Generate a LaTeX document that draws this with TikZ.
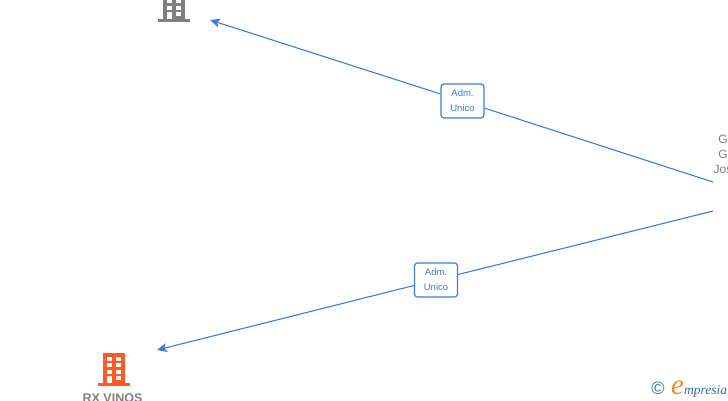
\documentclass[tikz,border=0pt]{standalone}
\usepackage{fontspec}
\setmainfont{Liberation Sans}
\newfontfamily\logofont{Liberation Serif}
\usetikzlibrary{arrows.meta}
\definecolor{linkblue}{HTML}{3B7DDD}
\definecolor{textgray}{HTML}{808080}
\definecolor{icongray}{HTML}{7F7F7F}
\definecolor{iconorange}{HTML}{FF5A26}
\definecolor{logoteal}{HTML}{2F7396}
\definecolor{logoorange}{HTML}{F08A1D}
\tikzset{
	rolebox/.style={draw=linkblue,fill=white,rounded corners=3pt,line width=1.2pt,text=linkblue,
		font=\fontsize{9.5}{15}\selectfont,align=center,minimum width=43pt,minimum height=34pt,inner sep=0pt},
	linkline/.style={draw=linkblue,line width=1.1pt},
	nametext/.style={text=textgray,align=center,inner sep=0pt}
}
% building drawn around the middle of its base
\newcommand{\building}[2]{
	\begin{scope}[shift={(#1)}]
		\fill[#2] (-16,-2) rectangle (16,1);
		\fill[#2] (-11,-32.5) rectangle (11,0);
		\foreach \y in {-28.5,-22,-15} {
			\fill[white] (-7,\y) rectangle (-2.5,\y+4);
			\fill[white] (2,\y) rectangle (7,\y+4);
		}
		\fill[white] (2,-9) rectangle (7,-5);
		\fill[white] (-7,-9) rectangle (-2.5,-2);
	\end{scope}
}
\begin{document}
\begin{tikzpicture}[x=1pt,y=-1pt,>=Stealth]
	\useasboundingbox (0,0) rectangle (728,400);
	\clip (0,0) rectangle (728,400);
	\building{174,21}{icongray}
	\building{114,385}{iconorange}
	\coordinate (TopEnd) at (210,20);
	\coordinate (VinosEnd) at (157,350);
	\coordinate (StartA) at (713,182);
	\coordinate (StartB) at (713,211);
	\node[nametext,font=\fontsize{12}{15}\selectfont] (Person) at (723,154) {G\\G\\Jos};
	\node[nametext,font=\bfseries\fontsize{12.5}{13}\selectfont,anchor=base] (Vinos) at (112.5,402) {RX VINOS};
	\node[rolebox] (RoleA) at (462.5,101) {Adm.\\Unico};
	\node[rolebox] (RoleB) at (436,280) {Adm.\\Unico};
	\draw[linkline] (StartA)--(RoleA);
	\draw[linkline,-{Stealth[length=10pt,width=9pt,inset=2.5pt]}] (RoleA)--(TopEnd);
	\draw[linkline] (StartB)--(RoleB);
	\draw[linkline,-{Stealth[length=10pt,width=9pt,inset=2.5pt]}] (RoleB)--(VinosEnd);
	% logo
	\node[text=logoteal,font=\fontsize{18}{18}\selectfont,inner sep=0pt] (Copy) at (658,388.5) {\textcopyright};
	\node[text=logoorange,font=\logofont\itshape\fontsize{29}{29}\selectfont,inner sep=0pt,anchor=base west] (LogoE) at (671,394) {e};
	\node[text=logoteal,font=\logofont\itshape\fontsize{13.5}{14}\selectfont,inner sep=0pt,anchor=base west] (LogoText) at (684,394) {mpresia};
\end{tikzpicture}
\end{document}
